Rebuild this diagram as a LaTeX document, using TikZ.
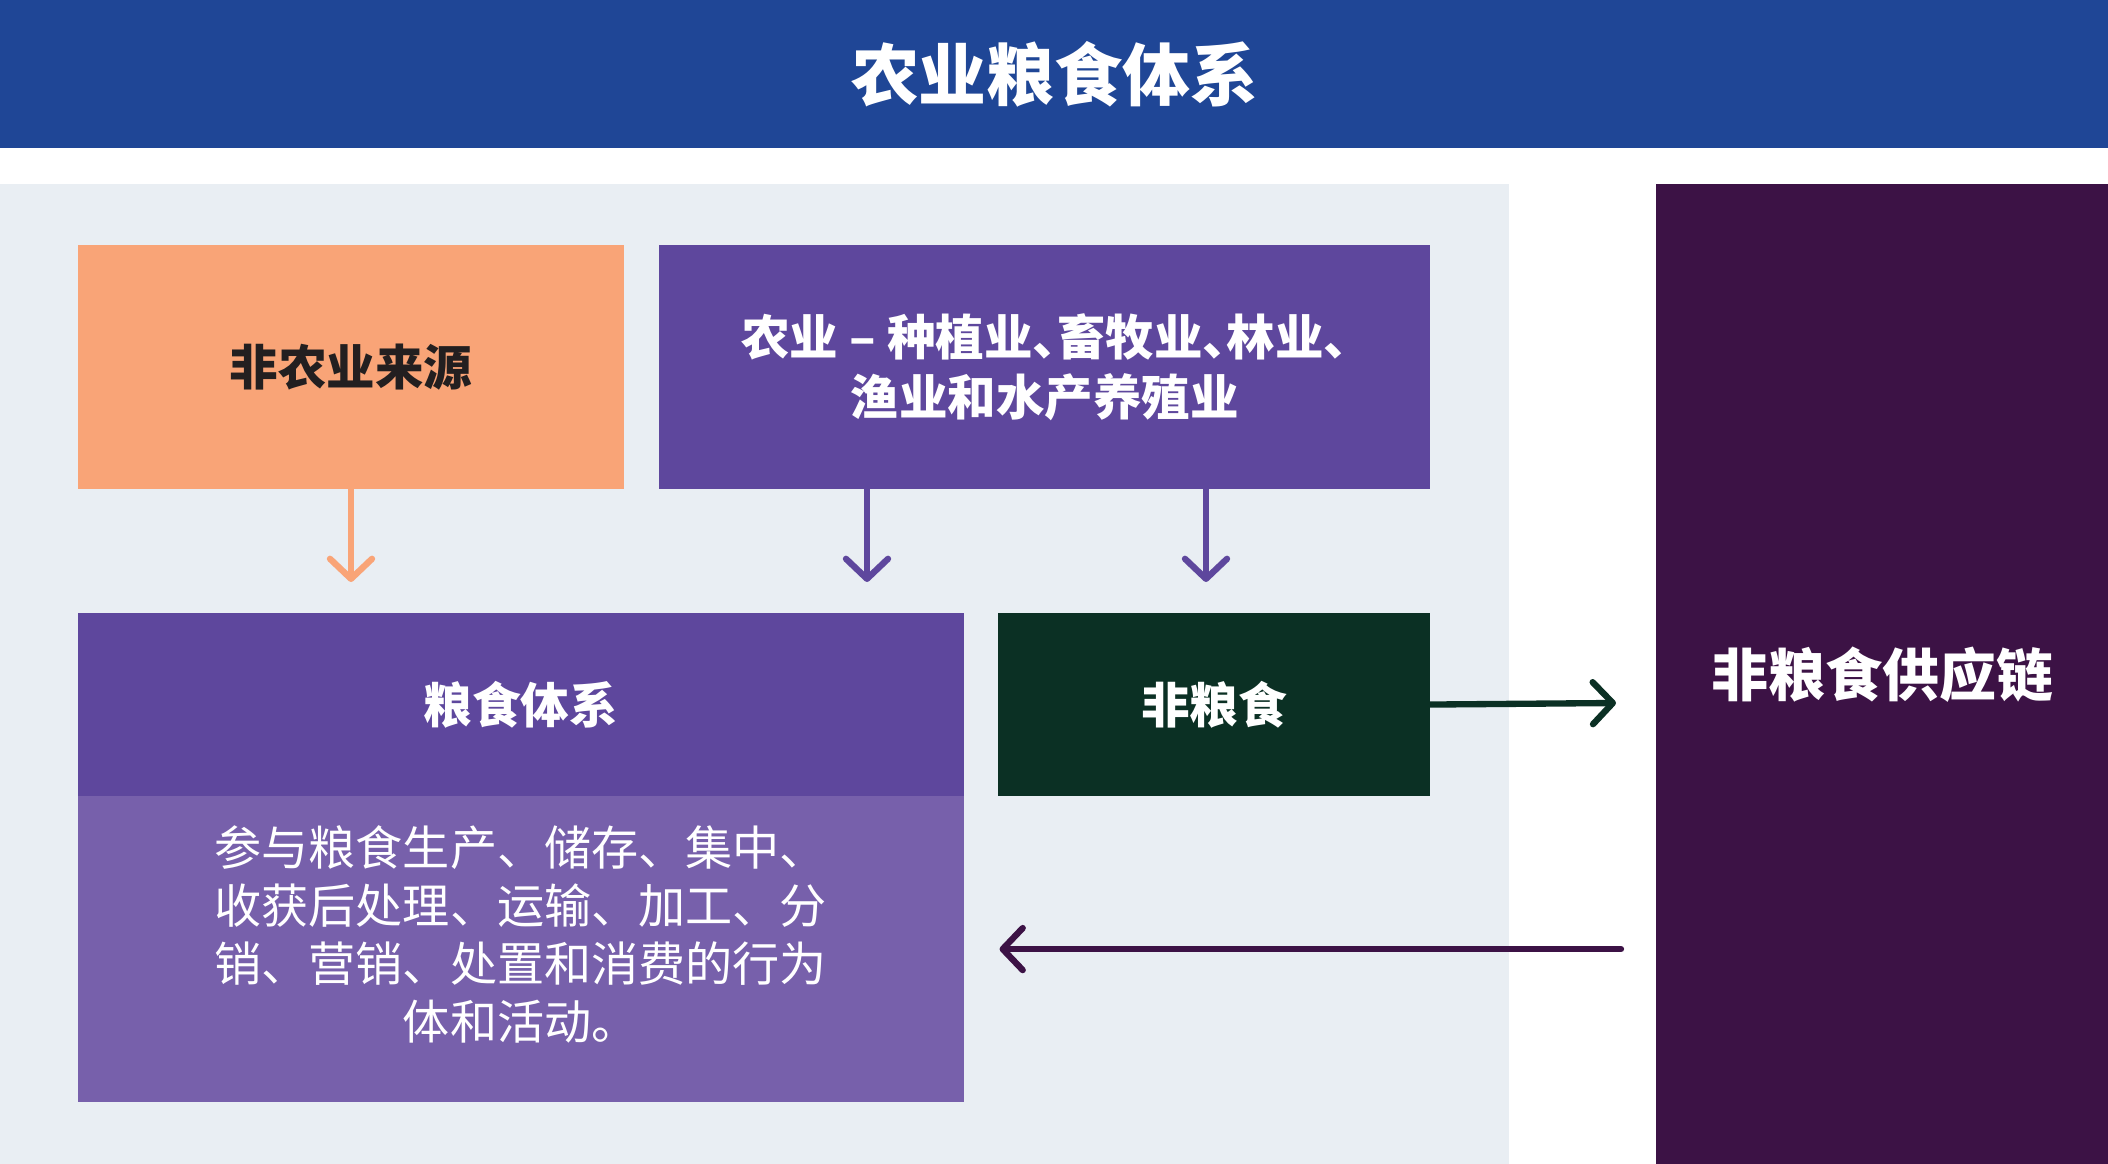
\documentclass[tikz,border=0pt]{standalone}
\usepackage{fontspec}
\setmainfont{Noto Sans CJK SC}
\usetikzlibrary{positioning, arrows.meta, calc}
\definecolor{titleblue}{HTML}{1F4696}
\definecolor{panelgrey}{HTML}{E9EEF3}
\definecolor{srcorange}{HTML}{F9A477}
\definecolor{agripurple}{HTML}{5E479D}
\definecolor{bodypurple}{HTML}{7760AB}
\definecolor{nonfoodgreen}{HTML}{0B3024}
\definecolor{chainpurple}{HTML}{3C1245}
\definecolor{inkdark}{HTML}{231F20}
\newcommand{\halfdun}{、\kern-.5em}

\begin{document}
\begin{tikzpicture}[x=0.01cm, y=-0.01cm,
    box/.style={inner sep=0pt, outer sep=0pt, anchor=north west, align=center,
                text=white, font=\fontsize{13.8}{17}\selectfont\bfseries},
    flow/.style={line width=1.8pt, line cap=round,
                 -{Straight Barb[length=0.2cm, width=0.42cm, round]}}]
    \useasboundingbox (0,0) rectangle (2108,1164);

    % title bar and panels
    \node[box, fill=titleblue, minimum width=21.08cm, minimum height=1.48cm,
          font=\fontsize{19.3}{22}\selectfont\bfseries] (title) at (0,0) {农业粮食体系};
    \node[box, fill=panelgrey, minimum width=15.08cm, minimum height=9.8cm] (panel) at (0,184) {};
    \node[box, fill=chainpurple, minimum width=4.52cm, minimum height=9.8cm,
          font=\fontsize{16.2}{19}\selectfont\bfseries] (chain) at (1656,184) {非粮食供应链};

    % top row
    \node[box, fill=srcorange, text=inkdark, minimum width=5.46cm, minimum height=2.44cm] (source) at (78,245) {非农业来源};
    \node[box, fill=agripurple, minimum width=7.71cm, minimum height=2.44cm] (agri) at (659,245)
        {农业 – 种植业\halfdun 畜牧业\halfdun 林业\halfdun\\渔业和水产养殖业};

    % bottom row
    \node[box, fill=agripurple, minimum width=8.85cm, minimum height=1.83cm] (foodhead) at (78,613) {粮食体系};
    \node[box, fill=bodypurple, minimum width=8.85cm, minimum height=3.06cm] (foodbody) at (78,796) {};
    \node[align=center, text=white, font=\fontsize{13.4}{16.5}\selectfont]
        (foodtext) at ([yshift=0.15cm]foodbody.center)
        {参与粮食生产、储存、集中、\\收获后处理、运输、加工、分\\销、营销、处置和消费的行为\\体和活动。};
    \node[box, fill=nonfoodgreen, minimum width=4.32cm, minimum height=1.83cm] (nonfood) at (998,613) {非粮食};

    % arrows
    \coordinate (s1) at (351,582);
    \coordinate (a1) at (867,582);
    \coordinate (a2) at (1206,582);
    \coordinate (r1) at (1616,703);
    \coordinate (l1) at ([xshift=0.36cm]foodbody.east);
    \coordinate (l0) at ([xshift=-0.35cm]chain.west |- l1);
    \draw[flow, srcorange] (s1 |- source.south) -- (s1);
    \draw[flow, agripurple] (a1 |- agri.south) -- (a1);
    \draw[flow, agripurple] (a2 |- agri.south) -- (a2);
    \draw[flow, nonfoodgreen] (nonfood.east) -- (r1);
    \draw[flow, chainpurple] (l0) -- (l1);
\end{tikzpicture}
\end{document}
